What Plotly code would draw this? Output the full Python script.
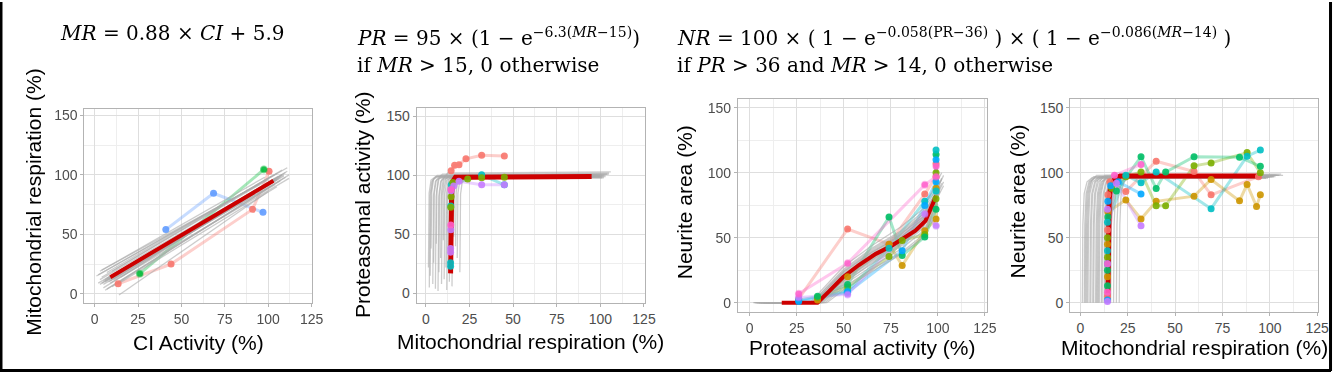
import plotly.graph_objects as go

W, H = 1344, 373

# ---------------- DATA ----------------
# Panel 1: CI activity vs mitochondrial respiration
p1_fit_ci = [9, 103]
p1_fit_mr = [14, 95]
p1_gray = [
    ([3, 108], [12, 100]), ([2, 105], [16, 101]), ([5, 110], [8, 98]), ([6, 104], [3, 92]),
    ([4, 100], [14, 96]), ([8, 106], [10, 97]), ([7, 102], [18, 99]), ([10, 112], [6, 100]),
    ([9, 103], [15, 94]), ([11, 109], [12, 99]), ([12, 101], [17, 93]), ([6, 107], [11, 95]),
    ([14, 100], [-1, 86]), ([1, 111], [15, 106]), ([3, 98], [19, 98]), ([13, 105], [8, 90]),
    ([5, 103], [5, 95]), ([8, 111], [13, 103]), ([2, 100], [9, 93]), ([15, 104], [14, 96]),
    ([4, 95], [20, 92]), ([10, 108], [19, 104]), ([7, 99], [4, 88]), ([9, 112], [9, 97]),
    ([5, 104], [11, 97]), ([7, 106], [13, 99]), ([9, 108], [14, 100]), ([6, 102], [10, 95]),
    ([8, 104], [12, 96]), ([4, 101], [9, 94]), ([11, 107], [15, 98]), ([10, 105], [13, 96]),
    ([3, 103], [8, 96]), ([12, 110], [16, 102]), ([6, 109], [12, 100]), ([9, 101], [11, 92]),
]
p1_series = {
    "#F8766D": ([13.5, 44, 91, 100.5], [8.5, 25, 71, 103]),
    "#00BA38": ([26, 97.5], [17, 104.5]),
    "#619CFF": ([41, 68.5, 97], [54, 84.5, 68.5]),
}

# Panel 2: mitochondrial respiration vs proteasomal activity
p2_fit_mr = [14.2, 14.4, 14.8, 15.5, 17, 95]
p2_fit_pr = [17, 60, 85, 95, 98.5, 99]
p2_gray = [
    ([1.5, 1.9, 3.0, 5.5, 100], [22, 85, 96, 99, 100]),
    ([2.5, 2.9, 4.0, 6.5, 104], [15, 84, 96, 100, 101]),
    ([3.0, 3.4, 4.5, 7.0, 98], [38, 86, 97, 99, 99]),
    ([4.0, 4.4, 5.5, 8.0, 102], [8, 83, 95, 98, 99]),
    ([4.5, 4.9, 6.0, 8.5, 96], [26, 85, 96, 100, 100]),
    ([5.5, 5.9, 7.0, 9.5, 105], [4, 82, 96, 101, 102]),
    ([6.0, 6.4, 7.5, 10, 100], [42, 87, 97, 99, 100]),
    ([7.0, 7.4, 8.5, 11, 103], [2, 82, 95, 98, 99]),
    ([7.5, 7.9, 9.0, 11.5, 99], [18, 84, 96, 100, 100]),
    ([8.5, 8.9, 10, 12.5, 106], [30, 85, 97, 102, 103]),
    ([9.0, 9.4, 10.5, 13, 101], [8, 83, 96, 99, 99]),
    ([10, 10.4, 11.5, 14, 97], [45, 88, 97, 100, 100]),
    ([10.5, 10.9, 12, 14.5, 102], [12, 84, 96, 98, 98]),
    ([11.5, 11.9, 13, 15.5, 104], [22, 85, 96, 100, 101]),
    ([12, 12.4, 13.5, 16, 100], [3, 82, 95, 99, 99]),
    ([13, 13.4, 14.5, 17, 98], [36, 86, 97, 100, 100]),
    ([13.5, 13.9, 15, 17.5, 103], [10, 83, 96, 99, 100]),
    ([14, 14.4, 15.5, 18, 101], [28, 85, 96, 98, 98]),
    ([15, 15.4, 16.5, 19, 105], [6, 83, 96, 100, 101]),
    ([16, 16.4, 17.5, 20, 99], [48, 88, 97, 99, 99]),
    ([17, 17.4, 18.5, 21, 102], [40, 86, 96, 100, 100]),
    ([18, 18.4, 19.5, 22, 100], [30, 85, 96, 98, 99]),
    ([19.5, 19.9, 21, 23.5, 97], [18, 84, 96, 99, 99]),
    ([2, 2.4, 3.5, 6, 101], [5, 83, 95, 99, 100]),
]
p2_series = {
    "#F8766D": ([14.5, 16.5, 19, 23, 32, 45], [104, 108.5, 109, 114, 117, 116.5]),
    "#00BFC4": ([14.2, 14.2, 14.3, 14.6, 32, 45], [23, 26, 74, 92, 100.5, 92]),
    "#7CAE00": ([14.3, 14.5, 15.5, 24, 32, 45], [73, 82, 94, 97, 98, 98.5]),
    "#C77CFF": ([14.2, 14.2, 14.3, 14.5, 16, 19, 32, 45], [35, 38, 54, 87, 91, 95, 92, 92]),
    "#FF61CC": ([14.3, 14.4], [58, 88]),
}

# Panel 3: proteasomal activity vs neurite area
p3_fit_pr = [17, 36, 42, 49.5, 58, 67, 75, 81, 88, 93.4, 97.3, 99]
p3_fit_nr = [0, 0, 8.5, 19.6, 29, 37.6, 43.5, 49, 55.5, 63, 76, 82]
p3_gray = [
    ([3, 35, 50, 65, 80, 92, 101], [0, 0, 22, 38, 52, 68, 90]),
    ([5, 37, 50, 65, 80, 92, 100], [0, 0, 18, 33, 46, 60, 80]),
    ([2, 33, 50, 65, 80, 92, 102], [0, 0, 26, 42, 55, 70, 95]),
    ([8, 39, 50, 65, 80, 92, 100], [0, 0, 14, 28, 41, 55, 76]),
    ([4, 36, 50, 65, 80, 92, 103], [0, 0, 20, 36, 50, 64, 98]),
    ([6, 34, 50, 65, 80, 92, 101], [0, 0, 24, 40, 53, 66, 88]),
    ([10, 38, 50, 65, 80, 92, 99], [0, 0, 16, 30, 43, 57, 78]),
    ([3, 32, 50, 65, 80, 92, 102], [0, 0, 28, 44, 58, 72, 100]),
    ([7, 40, 50, 65, 80, 92, 100], [0, 0, 12, 26, 38, 52, 74]),
    ([5, 35, 50, 65, 80, 92, 101], [0, 0, 21, 37, 49, 62, 85]),
    ([9, 37, 50, 65, 80, 92, 103], [0, 0, 19, 34, 47, 61, 93]),
    ([4, 34, 50, 65, 80, 92, 100], [0, 0, 23, 39, 51, 64, 82]),
    ([12, 41, 50, 65, 80, 92, 101], [0, 0, 10, 24, 37, 50, 86]),
    ([2, 36, 50, 65, 80, 92, 102], [0, 0, 17, 32, 45, 58, 96]),
    ([6, 33, 50, 65, 80, 92, 99], [0, 0, 25, 41, 54, 68, 84]),
    ([8, 38, 50, 65, 80, 92, 103], [0, 0, 15, 31, 44, 59, 90]),
    ([4, 36, 50, 65, 80, 92, 101], [0, 0, 19, 35, 48, 63, 87]),
    ([7, 35, 50, 65, 80, 92, 100], [0, 0, 22, 37, 50, 65, 83]),
    ([3, 37, 50, 65, 80, 92, 102], [0, 0, 17, 33, 47, 61, 92]),
    ([5, 34, 50, 65, 80, 92, 101], [0, 0, 24, 39, 52, 66, 89]),
]
p3_series = {
    "#F8766D": ([26, 52, 74, 93, 99, 99], [3, 56.7, 45, 83.6, 97, 107]),
    "#CD9600": ([36, 52, 74, 81, 93, 99, 99], [2, 20, 45, 28.6, 55.4, 64.4, 88]),
    "#7CAE00": ([36, 52, 74, 81, 93, 99, 99], [4, 12, 35.5, 47.8, 52.5, 80, 100]),
    "#00BE67": ([36, 52, 74, 81, 93, 99, 99], [5, 14, 66, 36.3, 50.6, 72, 114]),
    "#00BFC4": ([26, 52, 74, 93, 99, 99], [2, 9, 42, 78, 86, 117.5]),
    "#00A9FF": ([26, 52, 81, 93, 99, 99], [1, 8, 40, 74.9, 93, 110]),
    "#C77CFF": ([26, 52, 93, 99], [4, 6.4, 68.2, 59.3]),
    "#FF61CC": ([26, 52, 93, 99, 99], [6.9, 30.4, 90.7, 97, 105]),
}

# Panel 4: mitochondrial respiration vs neurite area
p4_fit_mr = [14.5, 14.7, 15.2, 16, 18, 21, 95.5]
p4_fit_nr = [0, 50, 80, 90, 95, 97.5, 97.6]
p4_gray = [
    ([1.0, 1.3, 2.0, 3.5, 6.0, 100], [0, 60, 84, 93, 96, 97]),
    ([2.0, 2.3, 3.0, 4.5, 7.0, 104], [0, 60, 84, 93, 97, 98]),
    ([2.5, 2.8, 3.5, 5.0, 7.5, 98], [0, 60, 84, 93, 96, 96]),
    ([3.0, 3.3, 4.0, 5.5, 8.0, 102], [0, 60, 84, 93, 97, 97]),
    ([3.5, 3.8, 4.5, 6.0, 8.5, 106], [0, 60, 84, 94, 98, 99]),
    ([4.0, 4.3, 5.0, 6.5, 9.0, 100], [0, 60, 84, 93, 96, 97]),
    ([5.0, 5.3, 6.0, 7.5, 10, 103], [0, 60, 84, 93, 97, 98]),
    ([5.5, 5.8, 6.5, 8.0, 10.5, 99], [0, 60, 84, 93, 96, 96]),
    ([6.5, 6.8, 7.5, 9.0, 11.5, 105], [0, 60, 84, 94, 97, 98]),
    ([7.0, 7.3, 8.0, 9.5, 12, 101], [0, 60, 84, 93, 96, 97]),
    ([8.0, 8.3, 9.0, 10.5, 13, 107], [0, 60, 84, 94, 98, 98]),
    ([8.5, 8.8, 9.5, 11, 13.5, 100], [0, 60, 84, 93, 96, 97]),
    ([9.0, 9.3, 10, 11.5, 14, 102], [0, 60, 84, 93, 97, 97]),
    ([9.5, 9.8, 10.5, 12, 14.5, 98], [0, 60, 84, 93, 96, 96]),
    ([10, 10.3, 11, 12.5, 15, 104], [0, 60, 84, 94, 97, 98]),
    ([11, 11.3, 12, 13.5, 16, 100], [0, 60, 84, 93, 96, 97]),
    ([11.5, 11.8, 12.5, 14, 16.5, 103], [0, 60, 84, 93, 97, 97]),
    ([12.5, 12.8, 13.5, 15, 17.5, 99], [0, 60, 84, 93, 96, 96]),
    ([13, 13.3, 14, 15.5, 18, 101], [0, 60, 84, 93, 97, 97]),
    ([14, 14.3, 15, 16.5, 19, 105], [0, 60, 84, 94, 97, 98]),
    ([15, 15.3, 16, 17.5, 20, 100], [0, 60, 84, 93, 96, 97]),
    ([16, 16.3, 17, 18.5, 21, 102], [0, 60, 84, 93, 97, 97]),
    ([17.5, 17.8, 18.5, 20, 22.5, 98], [0, 60, 84, 93, 96, 96]),
    ([19, 19.3, 20, 21.5, 24, 103], [0, 60, 84, 93, 97, 98]),
    ([20.5, 20.8, 21.5, 23, 25.5, 100], [0, 60, 84, 93, 96, 97]),
]
p4_series = {
    "#F8766D": ([14.3, 14.3, 14.5, 15.5, 24, 40, 60, 69, 94], [5, 56, 83, 93, 85.5, 108.9, 101, 83, 97]),
    "#CD9600": ([14.3, 14.3, 14.5, 24, 32, 40, 60, 69, 84, 88, 93, 95],
                [20, 45, 70, 79, 64.4, 78, 82, 94.8, 78.4, 91, 74, 83]),
    "#7CAE00": ([14.3, 14.3, 16.5, 24, 32, 40, 45, 60, 69, 88, 95],
                [35, 50, 88, 97, 100.5, 74.7, 74.7, 105.3, 107.6, 115.5, 100]),
    "#00BE67": ([14.3, 14.3, 14.5, 19, 32, 40, 45, 60, 84, 95],
                [13, 25, 66, 86, 112.4, 87.8, 100.5, 112.4, 112, 105]),
    "#00BFC4": ([14.3, 14.3, 24, 32, 40, 69, 88, 95], [40, 62, 98, 92.3, 100.5, 72.4, 112.8, 117.5]),
    "#00A9FF": ([14.3, 14.3, 14.5, 16, 20, 32], [2, 30, 78, 90, 93, 83.7]),
    "#C77CFF": ([14.3, 14.3, 19, 32], [1, 72, 92, 59.3]),
    "#FF61CC": ([14.3, 14.3, 18, 32], [8, 30, 98, 106.4]),
}

x_ticks = [0, 25, 50, 75, 100, 125]
y_ticks = [0, 50, 100, 150]

# ---------------- FIGURE ----------------
fig = go.Figure()
FIT_COLOR = "#CD0000"
GRAY = "rgba(170,170,170,0.6)"


def add_panel(k, gray, series, fit_x, fit_y, fit_w):
    xa, ya = ("x", "y") if k == 1 else ("x%d" % k, "y%d" % k)
    for col, (xs, ys) in series.items():
        fig.add_trace(go.Scatter(x=xs, y=ys, mode="lines", xaxis=xa, yaxis=ya,
                                 line=dict(color=col, width=3), opacity=0.35,
                                 hoverinfo="skip", showlegend=False))
    gx, gy = [], []
    for xs, ys in gray:
        gx += list(xs) + [None]
        gy += list(ys) + [None]
    fig.add_trace(go.Scatter(x=gx, y=gy, mode="lines", xaxis=xa, yaxis=ya,
                             line=dict(color=GRAY, width=1.3), hoverinfo="skip", showlegend=False))
    fig.add_trace(go.Scatter(x=fit_x, y=fit_y, mode="lines", xaxis=xa, yaxis=ya,
                             line=dict(color=FIT_COLOR, width=fit_w), showlegend=False))
    for col, (xs, ys) in series.items():
        fig.add_trace(go.Scatter(x=xs, y=ys, mode="markers", xaxis=xa, yaxis=ya,
                                 marker=dict(color=col, size=7), opacity=0.9,
                                 showlegend=False))


add_panel(1, p1_gray, p1_series, p1_fit_ci, p1_fit_mr, 4)
add_panel(2, p2_gray, p2_series, p2_fit_mr, p2_fit_pr, 5)
add_panel(3, p3_gray, p3_series, p3_fit_pr, p3_fit_nr, 4)
add_panel(4, p4_gray, p4_series, p4_fit_mr, p4_fit_nr, 5)


def px(x):
    return x / W


def py(y):
    return 1 - y / H


tickfont = dict(family="Liberation Sans, Arial, sans-serif", size=14, color="#4D4D4D")
common = dict(showgrid=True, gridcolor="#DEDEDE", gridwidth=1, showline=True,
              linecolor="#B3B3B3", linewidth=1, mirror=True, ticks="outside", ticklen=3,
              tickcolor="#B3B3B3", tickfont=tickfont, zeroline=False, fixedrange=True)

panels = [
    # (x0px, x1px, y_top_px, y_bot_px, xrange, yrange)
    (85, 315, 108, 303, [-6, 125.5], [-8, 155]),
    (420, 650, 107, 303, [-5.3, 125.4], [-8.4, 156.7]),
    (744, 995, 98, 312, [-6.3, 126], [-7.4, 156.4]),
    (1079, 1329, 98, 312, [-5.4, 125.5], [-7.4, 156.4]),
]
for i, (x0, x1, yt, yb, xr, yr) in enumerate(panels, start=1):
    sfx = "" if i == 1 else str(i)
    fig.layout["xaxis" + sfx] = dict(domain=[px(x0), px(x1)], range=xr, anchor="y" + sfx,
                                     tickvals=x_ticks,
                                     minor=dict(tick0=0, dtick=12.5, showgrid=True,
                                                gridcolor="#EEEEEE", gridwidth=1), **common)
    fig.layout["yaxis" + sfx] = dict(domain=[py(yb), py(yt)], range=yr, anchor="x" + sfx,
                                     tickvals=y_ticks,
                                     minor=dict(tick0=0, dtick=25, showgrid=True,
                                                gridcolor="#EEEEEE", gridwidth=1), **common)

title_font = dict(family="Liberation Sans, Arial, sans-serif", size=21, color="#000000")
eq_font = dict(family="DejaVu Serif, serif", size=20, color="#000000")

annotations = []
# axis titles (x)
for txt, xc, yc in [("CI Activity (%)", 200, 342),
                    ("Mitochondrial respiration (%)", 535, 341),
                    ("Proteasomal activity (%)", 869, 347),
                    ("Mitochondrial respiration (%)", 1204, 347)]:
    annotations.append(dict(text=txt, x=px(xc), y=py(yc), xref="paper", yref="paper",
                            xanchor="center", yanchor="middle", showarrow=False, font=title_font))
# axis titles (y)
for txt, xc, yc in [("Mitochondrial respiration (%)", 34, 201),
                    ("Proteasomal activity (%)", 366, 204),
                    ("Neurite area (%)", 691, 201),
                    ("Neurite area (%)", 1026, 201)]:
    annotations.append(dict(text=txt, x=px(xc), y=py(yc), xref="paper", yref="paper",
                            xanchor="center", yanchor="middle", showarrow=False,
                            textangle=-90, font=title_font))
# equations
eqs = [
    ("<i>MR</i> = 0.88 × <i>CI</i> + 5.9", 58, 31),
    ("<i>PR</i> = 95 × (1 − e<sup>−6.3(<i>MR</i>−15)</sup>)", 358, 35),
    ("if <i>MR</i> &gt; 15, 0 otherwise", 358, 63),
    ("<i>NR</i> = 100&nbsp;×&nbsp;(&nbsp;1 − e<sup>−0.058(PR−36)</sup>&nbsp;)&nbsp;×&nbsp;"
     "(&nbsp;1 − e<sup>−0.086(<i>MR</i>−14)</sup>&nbsp;)", 681, 35),
    ("if <i>PR</i> &gt; 36 and <i>MR</i> &gt; 14, 0 otherwise", 681, 63),
]
for txt, xl, yc in eqs:
    annotations.append(dict(text=txt, x=px(xl), y=py(yc), xref="paper", yref="paper",
                            xanchor="left", yanchor="middle", showarrow=False, font=eq_font))

shapes = [
    dict(type="line", xref="paper", yref="paper", x0=px(1), x1=px(1), y0=py(0), y1=py(371),
         line=dict(color="black", width=3)),
    dict(type="line", xref="paper", yref="paper", x0=px(0), x1=px(1342), y0=py(370.5), y1=py(370.5),
         line=dict(color="black", width=3)),
    dict(type="line", xref="paper", yref="paper", x0=px(1341.5), x1=px(1341.5), y0=py(0), y1=py(371),
         line=dict(color="black", width=3)),
]

fig.update_layout(width=W, height=H, margin=dict(l=0, r=0, t=0, b=0),
                  paper_bgcolor="white", plot_bgcolor="white",
                  annotations=annotations, shapes=shapes, showlegend=False)

fig.write_html("out.html", config={"displayModeBar": False},
               post_script="document.body.style.margin='0px';document.body.style.overflow='hidden';")
